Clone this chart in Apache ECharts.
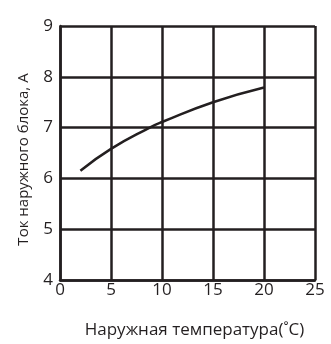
<!DOCTYPE html>
<html><head><meta charset="utf-8">
<script src="https://cdn.jsdelivr.net/npm/echarts@6/dist/echarts.min.js"></script>
<style>html,body{margin:0;padding:0;background:#fff}#c{width:331px;height:344px}</style>
</head><body><div id="c"></div>
<script>
var temps = [2, 5, 8.8, 10, 15, 20];
var currents = [6.15, 6.58, 7.0, 7.11, 7.5, 7.79];
var xTicks = [0, 5, 10, 15, 20, 25];
var yTicks = [4, 5, 6, 7, 8, 9];
var xName = 'Наружная температура(˚C)';
var yName = 'Ток наружного блока, А';
var ink = '#231f20';
var font = 'Open Sans';
var chart = echarts.init(document.getElementById('c'));
chart.setOption({
  animation: false,
  grid: {left: 60, right: 16, top: 26, bottom: 61},
  xAxis: {
    type: 'value', min: xTicks[0], max: xTicks[xTicks.length-1], interval: 5,
    name: xName, nameLocation: 'middle', nameGap: 42,
    nameTextStyle: {color: ink, fontSize: 17, fontFamily: font, padding: [0, 0, 0, 14]},
    axisLine: {show: true, lineStyle: {color: ink, width: 2.5}},
    axisTick: {show: false},
    axisLabel: {color: ink, fontSize: 17, fontFamily: font, margin: 2},
    splitLine: {show: true, lineStyle: {color: ink, width: 2.5}}
  },
  yAxis: {
    type: 'value', min: yTicks[0], max: yTicks[yTicks.length-1], interval: 1,
    name: yName, nameLocation: 'middle', nameGap: 29,
    nameTextStyle: {color: ink, fontSize: 15, fontFamily: font, padding: [0, 13, 0, 0]},
    axisLine: {show: true, lineStyle: {color: ink, width: 2.5}},
    axisTick: {show: false},
    axisLabel: {color: ink, fontSize: 17, fontFamily: font, margin: 7},
    splitLine: {show: true, lineStyle: {color: ink, width: 2.5}}
  },
  series: [{
    type: 'line', data: temps.map(function(t, i){return [t, currents[i]];}),
    smooth: true, symbol: 'none',
    lineStyle: {color: ink, width: 2.5}
  }]
});
</script></body></html>
